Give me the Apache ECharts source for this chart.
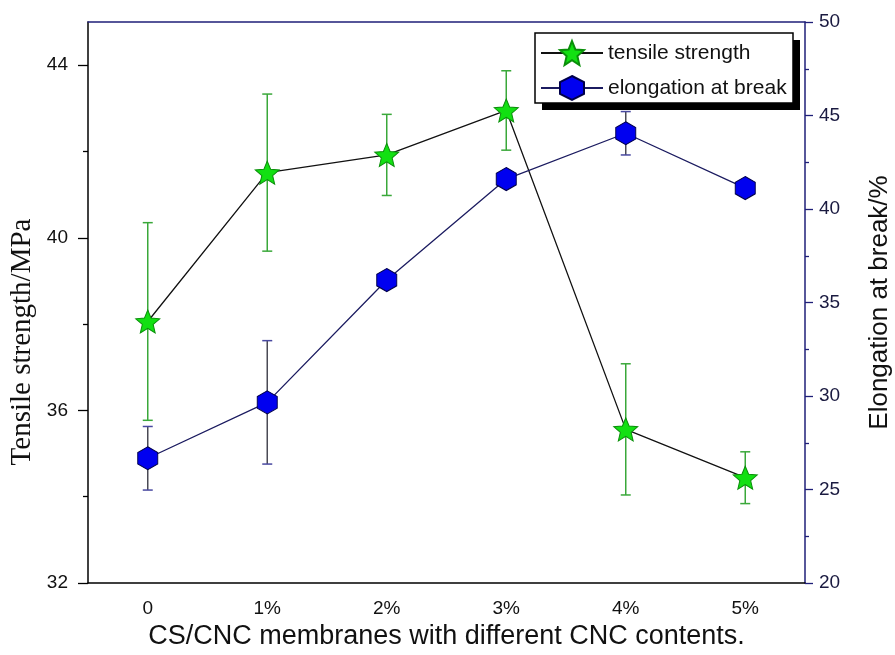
<!DOCTYPE html>
<html>
<head>
<meta charset="utf-8">
<script src="https://cdn.jsdelivr.net/npm/echarts@6/dist/echarts.min.js"></script>
<style>
  html, body { margin: 0; padding: 0; background: #ffffff; }
  #chart { width: 895px; height: 655px; }
</style>
</head>
<body>
<div id="chart"></div>
<script>
// CNC content of the CS/CNC membranes
const categories = ['0', '1%', '2%', '3%', '4%', '5%'];

// Tensile strength (MPa) with standard deviation
const tensileStrength = [38.06, 41.51, 41.92, 42.95, 35.56, 34.44];
const tensileError = [2.29, 1.82, 0.94, 0.92, 1.52, 0.60];

// Elongation at break (%) with standard deviation
const elongation = [26.67, 29.66, 36.2, 41.6, 44.05, 41.12];
const elongationError = [1.7, 3.3, 0.4, 0.4, 1.16, 0.4];

// Axis ticks
const tensileTicks = [32, 36, 40, 44];
const tensileMinorTicks = [34, 38, 42];
const elongationTicks = [20, 25, 30, 35, 40, 45, 50];

const SANS = '"Liberation Sans", Arial, sans-serif';
const SERIF = '"Liberation Serif", "Times New Roman", serif';
const NAVY = '#1f1f78';

function starPath() {
  const pts = [];
  for (let i = 0; i < 10; i++) {
    const r = i % 2 ? 0.45 : 1;
    const a = -Math.PI / 2 + i * Math.PI / 5;
    pts.push((r * Math.cos(a)).toFixed(4) + ',' + (r * Math.sin(a)).toFixed(4));
  }
  return 'path://M' + pts.join('L') + 'Z';
}
const STAR = starPath();
const HEXAGON = 'path://M0,-1L0.866,-0.5L0.866,0.5L0,1L-0.866,0.5L-0.866,-0.5Z';

function errorRows(values, errors) {
  return values.map((v, i) => [i, v - errors[i], v + errors[i]]);
}

function errorBarRenderer(stemColor, capColor) {
  return function (params, api) {
    const x = api.value(0);
    const lo = api.coord([x, api.value(1)]);
    const hi = api.coord([x, api.value(2)]);
    const half = 5;
    const stem = { stroke: stemColor, lineWidth: 1.5 };
    const cap = { stroke: capColor, lineWidth: 1.5 };
    return {
      type: 'group',
      children: [
        { type: 'line', shape: { x1: lo[0], y1: lo[1], x2: hi[0], y2: hi[1] }, style: stem },
        { type: 'line', shape: { x1: hi[0] - half, y1: hi[1], x2: hi[0] + half, y2: hi[1] }, style: cap },
        { type: 'line', shape: { x1: lo[0] - half, y1: lo[1], x2: lo[0] + half, y2: lo[1] }, style: cap }
      ]
    };
  };
}

const chart = echarts.init(document.getElementById('chart'));

const option = {
  animation: false,
  backgroundColor: '#ffffff',
  grid: { left: 88, right: 90, top: 22, bottom: 72, outerBoundsMode: 'none', containLabel: false },
  graphic: [
    // legend frame with its drop shadow
    { type: 'rect', z: 3, shape: { x: 542, y: 40, width: 258, height: 70 }, style: { fill: '#000000' } },
    { type: 'rect', z: 3, shape: { x: 535, y: 33, width: 258, height: 70 },
      style: { fill: '#ffffff', stroke: '#000000', lineWidth: 1.5 } },
    // left axis title
    { type: 'text', z: 5, x: 22, y: 342, rotation: Math.PI / 2,
      style: { text: 'Tensile strength/MPa', font: '29px ' + SERIF, fill: '#111111',
        align: 'center', verticalAlign: 'middle' } }
  ],
  legend: {
    orient: 'vertical',
    left: 535,
    top: 33,
    padding: [7, 5, 5, 5],
    itemWidth: 62,
    itemHeight: 30,
    itemGap: 9,
    selectedMode: false,
    data: ['tensile strength', 'elongation at break'],
    textStyle: { fontFamily: SANS, fontSize: 21, color: '#111111' }
  },
  xAxis: [
    {
      type: 'category', data: categories, position: 'bottom', boundaryGap: true,
      axisLine: { lineStyle: { color: '#000000', width: 1.5 } },
      axisTick: { alignWithLabel: true, length: 9, lineStyle: { color: '#000000', width: 1.3 } },
      axisLabel: { fontFamily: SANS, fontSize: 19, color: '#111111', margin: 16 },
      name: 'CS/CNC membranes with different CNC contents.',
      nameLocation: 'middle', nameGap: 40,
      nameTextStyle: { fontFamily: SANS, fontSize: 27, color: '#111111' }
    },
    {
      type: 'category', data: categories, position: 'bottom', boundaryGap: true,
      axisLine: { show: false },
      axisTick: { alignWithLabel: false, length: 5, lineStyle: { color: '#000000', width: 1.3 } },
      axisLabel: { show: false }
    },
    {
      type: 'category', data: categories, position: 'top', boundaryGap: true,
      axisLine: { lineStyle: { color: NAVY, width: 1.5 } },
      axisTick: { alignWithLabel: true, inside: true, length: 10, lineStyle: { color: '#1a1a50', width: 1.3 } },
      axisLabel: { show: false }
    },
    {
      type: 'category', data: categories, position: 'top', boundaryGap: true,
      axisLine: { show: false },
      axisTick: { alignWithLabel: false, inside: true, length: 6, lineStyle: { color: '#1a1a50', width: 1.3 } },
      axisLabel: { show: false }
    }
  ],
  yAxis: [
    {
      type: 'value', position: 'left', min: 32, max: 45,
      splitLine: { show: false },
      axisLine: { show: true, lineStyle: { color: '#000000', width: 1.5 } },
      axisTick: { show: true, customValues: tensileTicks, length: 10, lineStyle: { color: '#000000', width: 1.3 } },
      axisLabel: { customValues: tensileTicks, fontFamily: SANS, fontSize: 19, color: '#111111', margin: 20 }
    },
    {
      type: 'value', position: 'left', min: 32, max: 45,
      splitLine: { show: false },
      axisLine: { show: false },
      axisTick: { show: true, customValues: tensileMinorTicks, length: 5, lineStyle: { color: '#000000', width: 1.3 } },
      axisLabel: { show: false }
    },
    {
      type: 'value', position: 'right', min: 20, max: 50, interval: 5,
      splitLine: { show: false },
      axisLine: { show: true, lineStyle: { color: NAVY, width: 1.5 } },
      axisTick: { show: true, length: 8, lineStyle: { color: NAVY, width: 1.3 } },
      minorTick: { show: true, splitNumber: 2, length: 4, lineStyle: { color: NAVY, width: 1.3 } },
      axisLabel: { fontFamily: SANS, fontSize: 19, color: '#1a1a40', margin: 14,
        customValues: elongationTicks },
      name: 'Elongation at break/%',
      nameLocation: 'middle', nameRotate: 90, nameGap: 62,
      nameTextStyle: { fontFamily: SANS, fontSize: 26, color: '#111111' }
    }
  ],
  series: [
    {
      type: 'custom', name: 'tensile error', xAxisIndex: 0, yAxisIndex: 0, z: 1,
      renderItem: errorBarRenderer('#3aa83a', '#3aa83a'),
      encode: { x: 0, y: [1, 2] },
      data: errorRows(tensileStrength, tensileError),
      silent: true
    },
    {
      type: 'custom', name: 'elongation error', xAxisIndex: 0, yAxisIndex: 2, z: 1,
      renderItem: errorBarRenderer('#4a4a55', '#4848a0'),
      encode: { x: 0, y: [1, 2] },
      data: errorRows(elongation, elongationError),
      silent: true
    },
    {
      type: 'line', name: 'tensile strength', xAxisIndex: 0, yAxisIndex: 0, z: 2,
      data: tensileStrength,
      symbol: STAR, symbolSize: [24, 23],
      lineStyle: { color: '#111111', width: 1.3 },
      itemStyle: { color: '#12e012', borderColor: '#0a8f0a', borderWidth: 1 }
    },
    {
      type: 'line', name: 'elongation at break', xAxisIndex: 0, yAxisIndex: 2, z: 2,
      data: elongation,
      symbol: HEXAGON, symbolSize: [20, 23],
      lineStyle: { color: '#1b1b60', width: 1.3 },
      itemStyle: { color: '#0000f0', borderColor: '#00004a', borderWidth: 1 }
    }
  ]
};

chart.setOption(option);
</script>
</body>
</html>
